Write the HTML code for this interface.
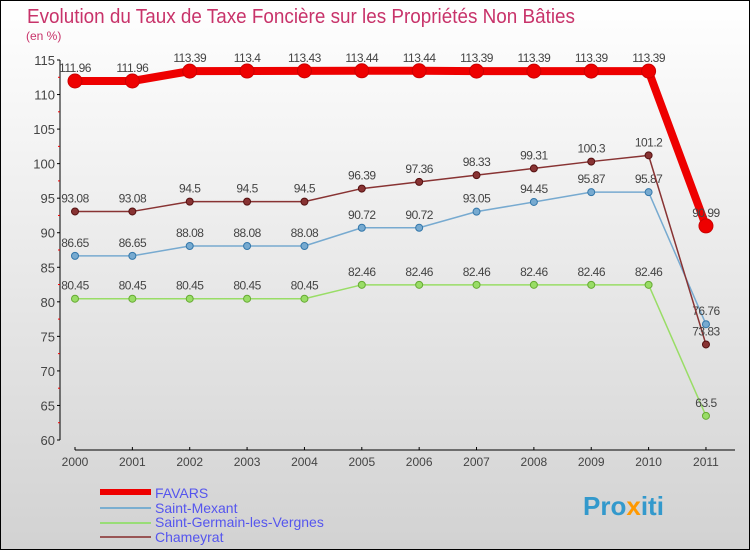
<!DOCTYPE html>
<html><head><meta charset="utf-8"><style>
body{margin:0}
#c{width:750px;height:550px;position:relative;overflow:hidden;font-family:"Liberation Sans",sans-serif}
</style></head><body>
<div id="c">
<svg width="750" height="550" id="s">
<defs><linearGradient id="bg" x1="0" y1="0" x2="0" y2="1"><stop offset="0" stop-color="#ffffff"/><stop offset="1" stop-color="#d2d2d2"/></linearGradient></defs>
<rect x="0.5" y="0.5" width="749" height="549" fill="url(#bg)" stroke="#000"/>
<text x="27" y="23" font-size="20" fill="#c8336a" textLength="548" lengthAdjust="spacingAndGlyphs">Evolution du Taux de Taxe Foncière sur les Propriétés Non Bâties</text>
<text x="26" y="40" font-size="12" fill="#c8336a">(en %)</text>
<g id="axes"></g><g id="series"></g>
<g>
<rect x="100" y="489" width="51" height="6" fill="#e00"/>
<text x="155" y="498" font-size="14" fill="#5555ee">FAVARS</text>
<rect x="100" y="507" width="51" height="2" fill="#7aaed0"/>
<text x="155" y="513" font-size="14" fill="#5555ee">Saint-Mexant</text>
<rect x="100" y="522" width="51" height="2" fill="#99dd77"/>
<text x="155" y="527" font-size="14" fill="#5555ee">Saint-Germain-les-Vergnes</text>
<rect x="100" y="536" width="51" height="2" fill="#995555"/>
<text x="155" y="542" font-size="14" fill="#5555ee">Chameyrat</text>
</g>
<g><text x="583" y="515" font-size="26" font-weight="bold" fill="#3399cc">Pro<tspan fill="#ff9900">x</tspan>iti</text></g>
</svg></div>
<script>
const years=["2000","2001","2002","2003","2004","2005","2006","2007","2008","2009","2010","2011"];
const yTicks=[60,65,70,75,80,85,90,95,100,105,110,115];
const favars=[111.96,111.96,113.39,113.4,113.43,113.44,113.44,113.39,113.39,113.39,113.39,90.99];
const saintMexant=[86.65,86.65,88.08,88.08,88.08,90.72,90.72,93.05,94.45,95.87,95.87,76.76];
const saintGermain=[80.45,80.45,80.45,80.45,80.45,82.46,82.46,82.46,82.46,82.46,82.46,63.5];
const chameyrat=[93.08,93.08,94.5,94.5,94.5,96.39,97.36,98.33,99.31,100.3,101.2,73.83];
const NS="http://www.w3.org/2000/svg";
const X=i=>75+i*57.36, Y=v=>60+(115-v)*380/55;
function mk(t,a,p,txt){const e=document.createElementNS(NS,t);for(const k in a)e.setAttribute(k,a[k]);if(txt!=null)e.textContent=txt;p.appendChild(e);return e;}
const ax=document.getElementById('axes');
let e=mk('line',{x1:60,y1:60,x2:60,y2:440,stroke:'#000'},ax);


e=mk('line',{x1:75,y1:450,x2:735,y2:450,stroke:'#000'},ax);


yTicks.forEach(v=>{mk('line',{x1:57,y1:Y(v),x2:60,y2:Y(v),stroke:'#000'},ax);
 if(v<115)mk('line',{x1:58,y1:Y(v+2.5),x2:60,y2:Y(v+2.5),stroke:'#e00'},ax);
 e=mk('text',{x:55,y:Y(v)+5,'font-size':13,fill:'#444','text-anchor':'end'},ax,String(v));
 
 });
years.forEach((y,i)=>{mk('line',{x1:X(i),y1:447,x2:X(i),y2:450,stroke:'#000'},ax);
 e=mk('text',{x:X(i),y:466,'font-size':12,fill:'#444','text-anchor':'middle'},ax,y);
 
 });
const sg=document.getElementById('series');
function draw(data,col,dark,w,r,name,fs){
 const g=mk('g',{},sg);
 
 
 const l=mk('polyline',{points:data.map((v,i)=>X(i)+','+Y(v)).join(' '),fill:'none',stroke:col,'stroke-width':w,'stroke-linejoin':'round'},g);
 
 
 data.forEach((v,i)=>{const c=mk('circle',{cx:X(i),cy:Y(v),r:r,fill:col,stroke:dark,'stroke-width':1},g);
  
  
  const t=mk('text',{x:X(i),y:Y(v)-9,'font-size':fs,fill:'#444','text-anchor':'middle','letter-spacing':'-0.5'},g,String(v));
  
  });
}
draw(saintGermain,'#99dd66','#66aa33',1.5,3.5,'saint-germain',12);
draw(saintMexant,'#77aad0','#3377aa',1.5,3.5,'saint-mexant',12);
draw(chameyrat,'#883333','#551111',1.5,3.5,'chameyrat',12);
draw(favars,'#ee0000','#cc0000',8,7,'favars',12);
</script>
</body></html>
